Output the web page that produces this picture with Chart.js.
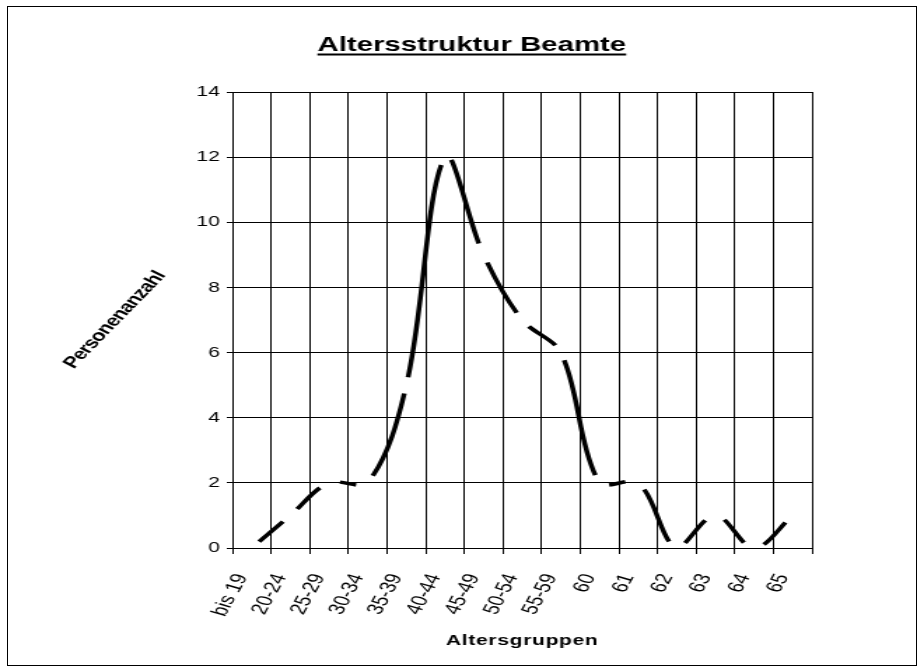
<!DOCTYPE html>
<html>
<head>
<meta charset="utf-8">
<script src="https://cdn.jsdelivr.net/npm/chart.js@4.4.1/dist/chart.umd.min.js"></script>
<style>
  html, body { margin: 0; padding: 0; background: #fff; }
  #frame {
    position: absolute; left: 7px; top: 6px; width: 908px; height: 658px;
    border: 1px solid #000;
  }
  /* the original picture is stretched sideways, so draw narrow and scale */
  #wrap {
    position: absolute; left: 0; top: 0; width: 660px; height: 672px;
    transform: scaleX(1.4); transform-origin: 0 0;
  }
</style>
</head>
<body>
<div id="frame"></div>
<div id="wrap"><canvas id="myChart"></canvas></div>
<script>
const categories = ["bis 19", "20-24", "25-29", "30-34", "35-39", "40-44", "45-49",
  "50-54", "55-59", "60", "61", "62", "63", "64", "65"];
const personen = [0, 1, 2, 2, 5, 12, 9, 7, 6, 2, 2, 0, 1, 0, 1];
const yMin = 0;
const yMax = 14;
const yStep = 2;

const chartTitle = "Altersstruktur Beamte";
const xTitle = "Altersgruppen";
const yTitle = "Personenanzahl";

const FONT = "'Liberation Sans', Arial, sans-serif";
const GAP = 16;

// titles are drawn by hand: underline and a slanted y title
const titlePlugin = {
  id: "titles",
  afterDraw(chart) {
    const ctx = chart.ctx;
    const area = chart.chartArea;
    ctx.save();
    ctx.fillStyle = "#000";
    ctx.textAlign = "center";
    ctx.textBaseline = "alphabetic";

    ctx.font = "bold 21px " + FONT;
    const cx = 337;
    ctx.fillText(chartTitle, cx, 51);
    const w = ctx.measureText(chartTitle).width;
    ctx.fillRect(cx - w / 2, 53.5, w, 2);

    ctx.font = "bold 15px " + FONT;
    ctx.letterSpacing = "0.5px";
    ctx.fillText(xTitle, (area.left + area.right) / 2, 645);

    ctx.translate(82, 320);
    ctx.rotate(-55 * Math.PI / 180);
    ctx.font = "bold 16px " + FONT;
    ctx.letterSpacing = "-0.6px";
    ctx.textBaseline = "middle";
    ctx.fillText(yTitle, 0, 0);
    ctx.restore();
  }
};

const ctx = document.getElementById("myChart").getContext("2d");
new Chart(ctx, {
  type: "line",
  data: {
    labels: categories,
    datasets: [{
      data: personen,
      borderColor: "#000",
      borderWidth: 3.5,
      tension: 0.35,
      pointRadius: 0,
      fill: false,
      // every segment is one dash with a gap around each point
      segment: {
        borderDash: (c) => {
          const len = Math.hypot(c.p1.x - c.p0.x, c.p1.y - c.p0.y);
          return [Math.max(len - GAP, 1), 1000 + c.p0DataIndex];
        },
        borderDashOffset: -GAP / 2
      }
    }]
  },
  options: {
    responsive: true,
    maintainAspectRatio: false,
    animation: false,
    devicePixelRatio: 1,
    layout: { padding: { left: 0, right: 80, top: 92, bottom: 24 } },
    plugins: {
      legend: { display: false },
      title: { display: false },
      tooltip: { enabled: false }
    },
    scales: {
      x: {
        offset: true,
        grid: { color: "#000", lineWidth: 1, offset: true, tickLength: 6 },
        border: { color: "#000", width: 1 },
        ticks: {
          autoSkip: false,
          minRotation: 68,
          maxRotation: 68,
          padding: 17,
          labelOffset: -7,
          color: "#000",
          font: { family: FONT, size: 16.5 }
        },
        afterFit(scale) { scale.height = 100; }
      },
      y: {
        min: yMin,
        max: yMax,
        grid: { color: "#000", lineWidth: 1, tickLength: 4 },
        border: { color: "#000", width: 1 },
        ticks: {
          stepSize: yStep,
          padding: 5,
          color: "#000",
          font: { family: FONT, size: 15 }
        },
        afterFit(scale) { scale.width = 166; }
      }
    }
  },
  plugins: [titlePlugin]
});
</script>
</body>
</html>
